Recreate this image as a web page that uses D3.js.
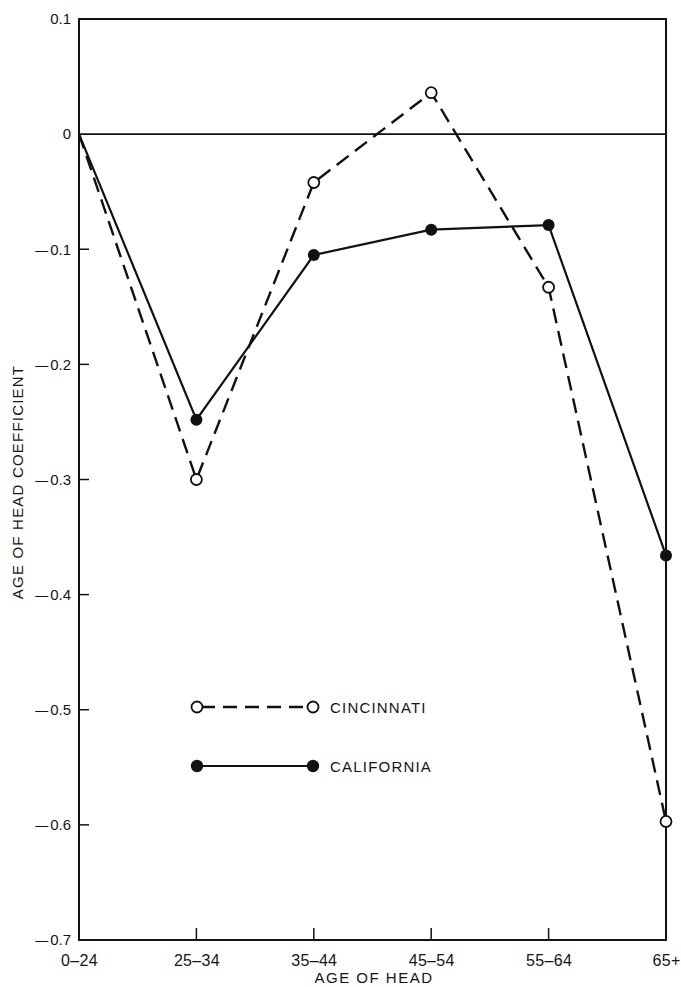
<!DOCTYPE html>
<html><head><meta charset="utf-8">
<script src="https://cdn.jsdelivr.net/npm/d3@7"></script>
<style>body{margin:0;background:#fff}svg{display:block}text{font-family:"Liberation Sans",Arial,sans-serif;fill:#151515}</style>
</head><body>
<script>
const categories = ["0\u201324","25\u201334","35\u201344","45\u201354","55\u201364","65+"];
const cincinnati = [0, -0.30, -0.042, 0.036, -0.133, -0.597];
const california = [0, -0.248, -0.105, -0.083, -0.079, -0.366];
const yTicks = [0.1, 0, -0.1, -0.2, -0.3, -0.4, -0.5, -0.6, -0.7];
const seriesNames = ["CINCINNATI", "CALIFORNIA"];

const W = 681, H = 987;
const svg = d3.select("body").append("svg").attr("width", W).attr("height", H);
const x = d3.scalePoint().domain(categories).range([79, 666]);
const y = d3.scaleLinear().domain([-0.7, 0.1]).range([940, 19]);
const ink = "#111";

// frame
svg.append("rect").attr("x", x(categories[0])).attr("y", y(0.1))
  .attr("width", x(categories[5]) - x(categories[0])).attr("height", y(-0.7) - y(0.1))
  .attr("fill", "none").attr("stroke", ink).attr("stroke-width", 2);
// zero line
svg.append("line").attr("x1", x(categories[0])).attr("x2", x(categories[5]))
  .attr("y1", y(0)).attr("y2", y(0)).attr("stroke", ink).attr("stroke-width", 1.6);

// y axis
const yAxis = d3.axisLeft(y).tickValues(yTicks).tickSize(0).tickPadding(8).tickFormat(() => "");
const gy = svg.append("g").attr("transform", `translate(${x(categories[0])},0)`).call(yAxis);
gy.select(".domain").remove();
gy.selectAll(".tick text").each(function(d) {
  const t = d3.select(this).attr("font-size", 15).style("fill", "#151515");
  if (d < 0) {
    t.append("tspan").attr("font-size", 13).text("\u2014");
    t.append("tspan").attr("dx", 2).text(Math.abs(d).toFixed(1));
  } else {
    t.append("tspan").text(d === 0 ? "0" : d.toFixed(1));
  }
});
// inner y ticks
svg.append("g").selectAll("line").data(yTicks.filter(d => d > -0.7 && d < 0.1 && d !== 0)).join("line")
  .attr("x1", x(categories[0])).attr("x2", x(categories[0]) + 10)
  .attr("y1", d => y(d)).attr("y2", d => y(d)).attr("stroke", ink).attr("stroke-width", 1.5);

// x axis
const xAxis = d3.axisBottom(x).tickSize(0).tickPadding(15);
const gx = svg.append("g").attr("transform", `translate(0,${y(-0.7)})`).call(xAxis);
gx.select(".domain").remove();
gx.selectAll("text").attr("font-size", 16).attr("letter-spacing", 0.3).style("fill", "#151515");
svg.append("g").selectAll("line").data(categories.slice(1, 5)).join("line")
  .attr("x1", d => x(d)).attr("x2", d => x(d))
  .attr("y1", y(-0.7)).attr("y2", y(-0.7) - 12).attr("stroke", ink).attr("stroke-width", 1.5);

// axis titles
svg.append("text").attr("x", 374).attr("y", 983).attr("text-anchor", "middle")
  .attr("font-size", 15).attr("letter-spacing", 1.5).text("AGE OF HEAD");
svg.append("text").attr("transform", "translate(23,482) rotate(-90)").attr("text-anchor", "middle")
  .attr("font-size", 15).attr("letter-spacing", 1.2).text("AGE OF HEAD COEFFICIENT");

// lines
const line = d3.line().x((d, i) => x(categories[i])).y(d => y(d));
svg.append("path").datum(california).attr("d", line).attr("fill", "none")
  .attr("stroke", ink).attr("stroke-width", 2.2);
svg.append("path").datum(cincinnati).attr("d", line).attr("fill", "none")
  .attr("stroke", ink).attr("stroke-width", 2.4).attr("stroke-dasharray", "15,8");

// points
svg.append("g").selectAll("circle").data(california.slice(1)).join("circle")
  .attr("cx", (d, i) => x(categories[i + 1])).attr("cy", d => y(d)).attr("r", 6).attr("fill", ink);
svg.append("g").selectAll("circle").data(cincinnati.slice(1)).join("circle")
  .attr("cx", (d, i) => x(categories[i + 1])).attr("cy", d => y(d)).attr("r", 5.5)
  .attr("fill", "#fff").attr("stroke", ink).attr("stroke-width", 1.8);

// legend
const lx1 = 197, lx2 = 313;
const legY = [707, 766];
svg.append("line").attr("x1", lx1).attr("x2", lx2).attr("y1", legY[0]).attr("y2", legY[0])
  .attr("stroke", ink).attr("stroke-width", 2.4).attr("stroke-dasharray", "14,8").attr("stroke-dashoffset", -4);
[lx1, lx2].forEach(cx => svg.append("circle").attr("cx", cx).attr("cy", legY[0]).attr("r", 5.5)
  .attr("fill", "#fff").attr("stroke", ink).attr("stroke-width", 1.8));
svg.append("line").attr("x1", lx1).attr("x2", lx2).attr("y1", legY[1]).attr("y2", legY[1])
  .attr("stroke", ink).attr("stroke-width", 2.2);
[lx1, lx2].forEach(cx => svg.append("circle").attr("cx", cx).attr("cy", legY[1]).attr("r", 6.2).attr("fill", ink));
seriesNames.forEach((n, i) => svg.append("text").attr("x", 330).attr("y", legY[i] + 5.5)
  .attr("font-size", 15).attr("letter-spacing", 1.2).text(n));
</script>
</body></html>
